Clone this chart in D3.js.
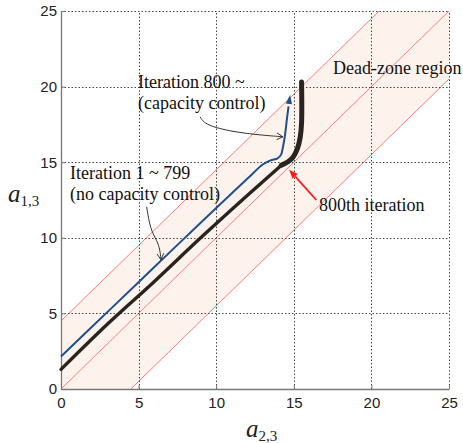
<!DOCTYPE html>
<html><head><meta charset="utf-8">
<script src="https://cdn.jsdelivr.net/npm/d3@7"></script>
<style>body{margin:0;background:#fff}svg{display:block}</style>
</head><body>
<script>
// ---- data ----
const xTicks = [0, 5, 10, 15, 20, 25];
const yTicks = [0, 5, 10, 15, 20, 25];
const gridValues = [5, 10, 15, 20, 25];
const deadZoneOffsets = [4.5, 0, -4.5];           // lines a13 = a23 + d
const deadZoneHalfWidth = 4.5;
// iteration 1 ~ 799 (no capacity control)
const blackPath = [[0,1.3],[3,4.3],[6,7.1],[9,10.0],[12,12.8],[14.2,14.8]];
// iteration 800 ~ (capacity control) – thick tail
const blackTail = [[14.2,14.8],[14.65,15.05],[14.96,15.35],[15.25,15.95],[15.42,16.7],[15.5,17.6],[15.5,20.3]];
// other trajectory (blue)
const bluePath = [[0,2.15],[3,5.1],[6,8.05],[9,11.0],[12,13.9],[13.0,14.85],[13.5,15.12],[13.95,15.25],[14.18,15.5],[14.3,16.0],[14.42,16.7],[14.55,17.8],[14.66,18.7]];
const blueArrowTip = [14.76,19.45];
// annotation arrows (data coordinates)
const arrowCapacity = [[8.96,18.0],[9.3,17.45],[11.1,17.0],[12.8,16.8],[14.3,16.68]];
const arrowNoCapacity = [[5.52,12.06],[5.75,10.55],[6.2,9.8],[6.38,9.2],[6.44,8.55]];
const arrow800 = [[16.45,12.5],[14.7,14.5]];
const labels = [
  {text:"Iteration 800 ~", x:138, y:87.5},
  {text:"(capacity control)", x:138, y:108.5},
  {text:"Dead-zone region", x:333, y:74},
  {text:"Iteration 1 ~ 799", x:70, y:178.5},
  {text:"(no capacity control)", x:70, y:199.5},
  {text:"800th iteration", x:319, y:211}
];

const W = 463, H = 443;
const svg = d3.select("body").append("svg").attr("width", W).attr("height", H);
const x = d3.scaleLinear().domain([0,25]).range([61,449]);
const y = d3.scaleLinear().domain([0,25]).range([389,11]);

svg.append("clipPath").attr("id","clip").append("rect")
  .attr("x",61).attr("y",11).attr("width",388).attr("height",378);

const plot = svg.append("g").attr("clip-path","url(#clip)");

// dead-zone band
const lo = -10, hi = 35;
const band = [[lo, lo+deadZoneHalfWidth],[hi, hi+deadZoneHalfWidth],[hi, hi-deadZoneHalfWidth],[lo, lo-deadZoneHalfWidth]];
plot.append("path")
  .attr("d", d3.line().x(d=>x(d[0])).y(d=>y(d[1]))(band) + "Z")
  .attr("fill", "#fdf3ec");

// grid
const grid = svg.append("g").attr("stroke","#444").attr("stroke-width",1).attr("stroke-dasharray","1.5,2");
grid.selectAll(".gv").data(gridValues).join("line")
  .attr("x1",d=>Math.round(x(d))+0.5).attr("x2",d=>Math.round(x(d))+0.5)
  .attr("y1",y(0)).attr("y2",y(25));
grid.selectAll(".gh").data(gridValues).join("line")
  .attr("y1",d=>Math.round(y(d))+0.5).attr("y2",d=>Math.round(y(d))+0.5)
  .attr("x1",x(0)).attr("x2",x(25));

// dead-zone lines
plot.selectAll(".dz").data(deadZoneOffsets).join("line")
  .attr("x1",x(lo)).attr("y1",d=>y(lo+d))
  .attr("x2",x(hi)).attr("y2",d=>y(hi+d))
  .attr("stroke","#ff7a7a").attr("stroke-width",1);

// axes
const ax = svg.append("g").attr("transform",`translate(0,${y(0)})`)
  .call(d3.axisBottom(x).tickValues(xTicks).tickSizeInner(-4).tickSizeOuter(0).tickPadding(8));
const ay = svg.append("g").attr("transform",`translate(${x(0)},0)`)
  .call(d3.axisLeft(y).tickValues(yTicks).tickSizeInner(-4).tickSizeOuter(0).tickPadding(4));
[ax,ay].forEach(g=>{
  g.select(".domain").attr("stroke","#777").attr("stroke-width",1.3);
  g.selectAll(".tick line").attr("stroke","#777");
  g.selectAll(".tick text").attr("fill","#222").style("font-family","Liberation Sans, Arial, sans-serif").style("font-size","15px");
});

// trajectories
const line = d3.line().x(d=>x(d[0])).y(d=>y(d[1])).curve(d3.curveCatmullRom.alpha(0.5));
svg.append("path").attr("d", line(bluePath)).attr("fill","none")
  .attr("stroke","#1f4f8d").attr("stroke-width",2).attr("stroke-linejoin","round");
// blue arrowhead
(function(){
  const p = bluePath[bluePath.length-1];
  const tx = x(blueArrowTip[0]), ty = y(blueArrowTip[1]);
  const px = x(p[0]), py = y(p[1]);
  const ang = Math.atan2(ty-py, tx-px);
  const L = 9, Wd = 3.2;
  const bx = tx - L*Math.cos(ang), by = ty - L*Math.sin(ang);
  const nx = -Math.sin(ang), ny = Math.cos(ang);
  svg.append("path").attr("d",`M${tx},${ty}L${bx+nx*Wd},${by+ny*Wd}L${bx-nx*Wd},${by-ny*Wd}Z`)
    .attr("fill","#1f4f8d");
})();

svg.append("path").attr("d", line(blackPath)).attr("fill","none")
  .attr("stroke","#2a2421").attr("stroke-width",3.4).attr("stroke-linecap","round");
svg.append("path").attr("d", line(blackTail)).attr("fill","none")
  .attr("stroke","#2a2421").attr("stroke-width",5).attr("stroke-linecap","round").attr("stroke-linejoin","round");

// annotation arrows
function openArrow(pts, color){
  const lineA = d3.line().x(d=>x(d[0])).y(d=>y(d[1])).curve(d3.curveBasis);
  svg.append("path").attr("d", lineA(pts)).attr("fill","none").attr("stroke",color).attr("stroke-width",1);
  const a = pts[pts.length-2], b = pts[pts.length-1];
  const ang = Math.atan2(y(b[1])-y(a[1]), x(b[0])-x(a[0]));
  const tx=x(b[0]), ty=y(b[1]), L=7, sp=0.5;
  svg.append("path").attr("d",
    `M${tx-L*Math.cos(ang-sp)},${ty-L*Math.sin(ang-sp)}L${tx},${ty}L${tx-L*Math.cos(ang+sp)},${ty-L*Math.sin(ang+sp)}`)
    .attr("fill","none").attr("stroke",color).attr("stroke-width",1);
}
openArrow(arrowCapacity, "#333");
openArrow(arrowNoCapacity, "#333");

// red arrow
(function(){
  const [s,t] = arrow800;
  const sx=x(s[0]), sy=y(s[1]), tx=x(t[0]), ty=y(t[1]);
  const ang = Math.atan2(ty-sy, tx-sx);
  const L=9, Wd=3.5;
  const bx = tx - L*Math.cos(ang), by = ty - L*Math.sin(ang);
  const nx=-Math.sin(ang), ny=Math.cos(ang);
  svg.append("line").attr("x1",sx).attr("y1",sy).attr("x2",bx).attr("y2",by)
    .attr("stroke","#ff1a1a").attr("stroke-width",1.8);
  svg.append("path").attr("d",`M${tx},${ty}L${bx+nx*Wd},${by+ny*Wd}L${bx-nx*Wd},${by-ny*Wd}Z`).attr("fill","#ff1a1a");
})();

// text labels
svg.selectAll(".lbl").data(labels).join("text")
  .attr("x",d=>d.x).attr("y",d=>d.y).text(d=>d.text)
  .attr("fill","#111").style("font-family","Liberation Serif, serif").style("font-size","18px");

// axis titles
const yl = svg.append("text").attr("x",8).attr("y",202).attr("fill","#222").style("font-family","Liberation Serif, serif");
yl.append("tspan").text("a").style("font-style","italic").style("font-size","25px");
yl.append("tspan").text("1,3").attr("dy",4).style("font-size","15px");
const xl = svg.append("text").attr("x",246).attr("y",437).attr("fill","#222").style("font-family","Liberation Serif, serif");
xl.append("tspan").text("a").style("font-style","italic").style("font-size","25px");
xl.append("tspan").text("2,3").attr("dy",4).style("font-size","15px");
</script>
</body></html>
